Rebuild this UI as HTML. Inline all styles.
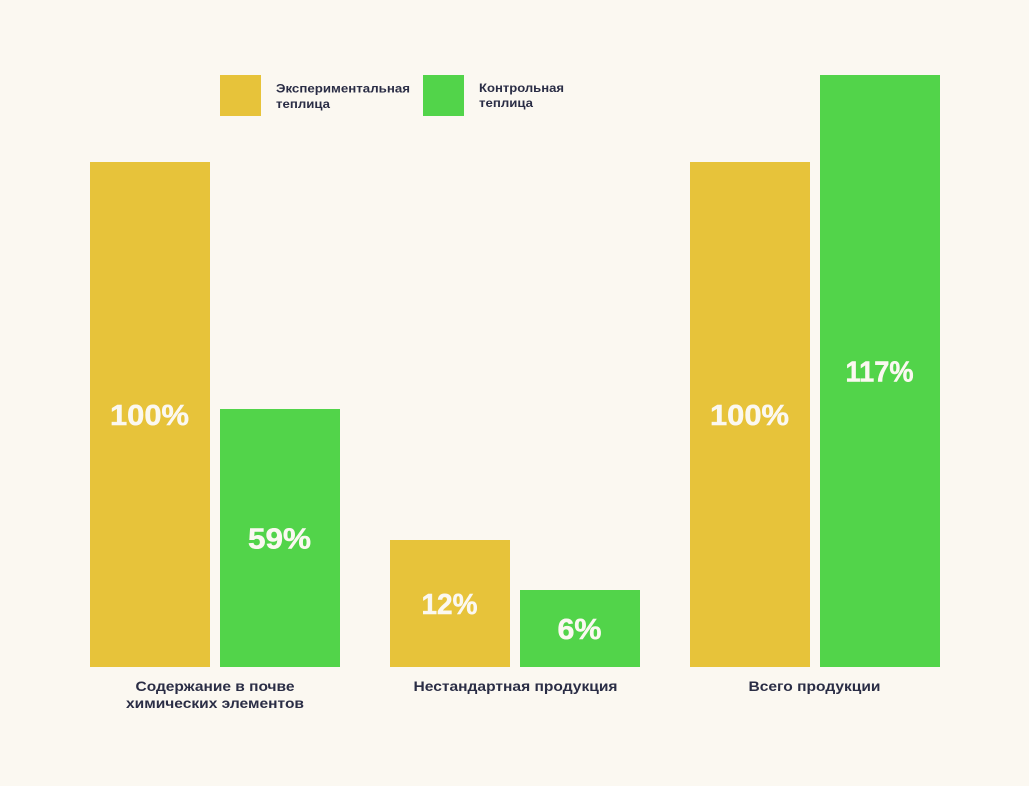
<!DOCTYPE html>
<html lang="ru">
<head>
<meta charset="utf-8">
<title>Сравнение теплиц</title>
<style>
  html, body { margin: 0; padding: 0; background: #FBF8F1; }
  svg { display: block; }
  text { font-family: "Liberation Sans", "DejaVu Sans", sans-serif; font-weight: 700; }
  .cat { font-size: 13.5px; fill: #2A2D45; }
  .leg { font-size: 11.5px; fill: #2A2D45; }
  .val { font-size: 29px; fill: #FBF8F1; stroke: #FBF8F1; stroke-width: 0.5px; }
</style>
</head>
<body>
<svg id="chart" xmlns="http://www.w3.org/2000/svg" width="1029" height="786" viewBox="0 0 1029 786">
  <rect x="0" y="0" width="1029" height="786" fill="#FBF8F1"/>
  <g id="bars"></g>
  <g>
    <g>
      <rect x="220" y="75" width="41" height="41" fill="#E7C33A"/>
      <text class="leg" x="276" y="92.5" textLength="134" lengthAdjust="spacingAndGlyphs">Экспериментальная</text>
      <text class="leg" x="276" y="108" textLength="54" lengthAdjust="spacingAndGlyphs">теплица</text>
    </g>
    <g>
      <rect x="423" y="75" width="41" height="41" fill="#52D44A"/>
      <text class="leg" x="479" y="92" textLength="85" lengthAdjust="spacingAndGlyphs">Контрольная</text>
      <text class="leg" x="479" y="107" textLength="54" lengthAdjust="spacingAndGlyphs">теплица</text>
    </g>
  </g>
  <g>
    <text class="cat" x="215" y="691" text-anchor="middle" textLength="159" lengthAdjust="spacingAndGlyphs">Содержание в почве</text>
    <text class="cat" x="215" y="708" text-anchor="middle" textLength="178" lengthAdjust="spacingAndGlyphs">химических элементов</text>
    <text class="cat" x="515.5" y="691" text-anchor="middle" textLength="204" lengthAdjust="spacingAndGlyphs">Нестандартная продукция</text>
    <text class="cat" x="814.5" y="691" text-anchor="middle" textLength="132" lengthAdjust="spacingAndGlyphs">Всего продукции</text>
  </g>
</svg>
<script>
// Chart data
const categories = ['soil-chemicals', 'nonstandard-produce', 'total-produce'];
const experimentalValues = [100, 12, 100];
const controlValues = [59, 6, 117];

// Value axis: the reference chart's axis is not proportional, so it is piecewise linear.
function scaleHeight(v) {
  const domain = [0, 6, 12, 59, 100, 117];
  const range = [0, 77, 127, 258, 505, 592];
  let i = 1;
  while (i < domain.length - 1 && v > domain[i]) i++;
  const t = (v - domain[i - 1]) / (domain[i] - domain[i - 1]);
  return range[i - 1] + t * (range[i] - range[i - 1]);
}

// Category axis
function scaleX(categoryIndex, seriesIndex) {
  return 90 + categoryIndex * 300 + seriesIndex * 130;
}

const baselineY = 667;
const barWidth = 120;
const NS = 'http://www.w3.org/2000/svg';
const barsGroup = document.getElementById('bars');

function labelWidth(str) {
  const advance = { '0': 20, '1': 12, '2': 17, '3': 17, '4': 18, '5': 18, '6': 17, '7': 17, '8': 18, '9': 18, '%': 27 };
  let w = 0;
  for (const ch of str) w += advance[ch] || 17;
  return w;
}

function drawBar(categoryIndex, seriesIndex, value, color, seriesName) {
  const h = scaleHeight(value);
  const x = scaleX(categoryIndex, seriesIndex);
  const y = baselineY - h;

  const rect = document.createElementNS(NS, 'rect');
  
  
  rect.setAttribute('x', x);
  rect.setAttribute('y', y);
  rect.setAttribute('width', barWidth);
  rect.setAttribute('height', h);
  rect.setAttribute('fill', color);
  barsGroup.appendChild(rect);

  const str = value + '%';
  const label = document.createElementNS(NS, 'text');
  
  
  label.setAttribute('class', 'val');
  label.setAttribute('x', x + barWidth / 2 - 0.5);
  label.setAttribute('y', y + h / 2 + 10.5);
  label.setAttribute('text-anchor', 'middle');
  label.setAttribute('textLength', labelWidth(str));
  label.setAttribute('lengthAdjust', 'spacingAndGlyphs');
  label.textContent = str;
  barsGroup.appendChild(label);
}

categories.forEach(function (c, i) {
  drawBar(i, 0, experimentalValues[i], '#E7C33A', 'experimental');
  drawBar(i, 1, controlValues[i], '#52D44A', 'control');
});
</script>
</body>
</html>
